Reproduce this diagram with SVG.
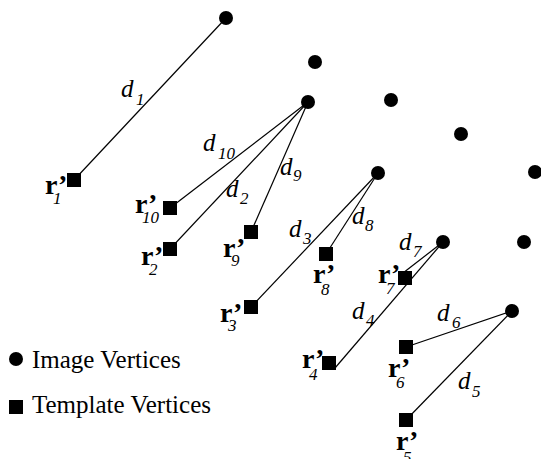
<svg xmlns="http://www.w3.org/2000/svg" width="541" height="459" viewBox="0 0 541 459">
  <style>
    .edge { stroke: #000; stroke-width: 1.2; fill: none; }
    .img { fill: #000; }
    .tpl { fill: #000; }
    .d { font-family: "Liberation Serif", "Times New Roman", "DejaVu Serif", serif; font-style: italic; font-size: 25px; fill: #000; }
    .ds { font-family: "Liberation Serif", "Times New Roman", "DejaVu Serif", serif; font-style: italic; font-size: 17px; fill: #000; }
    .r { font-family: "Liberation Serif", "Times New Roman", "DejaVu Serif", serif; font-weight: bold; font-size: 28px; fill: #000; }
    .rs { font-family: "Liberation Serif", "Times New Roman", "DejaVu Serif", serif; font-style: italic; font-size: 17px; fill: #000; }
    .legend { font-family: "Liberation Serif", "Times New Roman", "DejaVu Serif", serif; font-size: 25px; fill: #000; }
  </style>

  <!-- distance connectors -->
  <g id="connectors">
    <line class="edge" x1="226" y1="18" x2="74" y2="180"/>
    <line class="edge" x1="308" y1="102" x2="170" y2="208"/>
    <line class="edge" x1="308" y1="102" x2="170" y2="249"/>
    <line class="edge" x1="308" y1="102" x2="251" y2="232"/>
    <line class="edge" x1="378" y1="173" x2="251" y2="307"/>
    <line class="edge" x1="378" y1="173" x2="326" y2="254"/>
    <line class="edge" x1="443" y1="242" x2="403" y2="273"/>
    <line class="edge" x1="443" y1="242" x2="335" y2="368"/>
    <line class="edge" x1="512" y1="311" x2="406" y2="347"/>
    <line class="edge" x1="512" y1="311" x2="406" y2="420"/>
  </g>

  <!-- distance labels -->
  <g id="distance-labels">
    <text class="d" x="121" y="97">d</text><text class="ds" x="136" y="105">1</text>
    <text class="d" x="203" y="151">d</text><text class="ds" x="218" y="159">10</text>
    <text class="d" x="226" y="197">d</text><text class="ds" x="240" y="204">2</text>
    <text class="d" x="280" y="175">d</text><text class="ds" x="293" y="181">9</text>
    <text class="d" x="289" y="237">d</text><text class="ds" x="303" y="244">3</text>
    <text class="d" x="352" y="224">d</text><text class="ds" x="365" y="231">8</text>
    <text class="d" x="399" y="250">d</text><text class="ds" x="413" y="257">7</text>
    <text class="d" x="352" y="319">d</text><text class="ds" x="366" y="326">4</text>
    <text class="d" x="437" y="321">d</text><text class="ds" x="452" y="328">6</text>
    <text class="d" x="458" y="389">d</text><text class="ds" x="472" y="397">5</text>
  </g>

  <!-- image vertices -->
  <g id="image-vertices">
    <circle id="iv1" class="img" cx="226" cy="18" r="7"/>
    <circle id="iv2" class="img" cx="315" cy="62" r="7"/>
    <circle id="iv3" class="img" cx="308" cy="102" r="7"/>
    <circle id="iv4" class="img" cx="391" cy="100" r="7"/>
    <circle id="iv5" class="img" cx="461" cy="134" r="7"/>
    <circle id="iv6" class="img" cx="535" cy="172" r="7"/>
    <circle id="iv7" class="img" cx="378" cy="173" r="7"/>
    <circle id="iv8" class="img" cx="443" cy="242" r="7"/>
    <circle id="iv9" class="img" cx="524" cy="242" r="7"/>
    <circle id="iv10" class="img" cx="512" cy="311" r="7"/>
  </g>

  <!-- template vertices with labels -->
  <g id="tv1">
    <rect class="tpl" x="67" y="173" width="14" height="14"/>
    <text class="r" x="45" y="194">r’</text><text class="rs" x="53" y="204">1</text>
  </g>
  <g id="tv10">
    <rect class="tpl" x="163" y="201" width="14" height="14"/>
    <text class="r" x="135" y="213">r’</text><text class="rs" x="142" y="223">10</text>
  </g>
  <g id="tv2">
    <rect class="tpl" x="163" y="242" width="14" height="14"/>
    <text class="r" x="141" y="265">r’</text><text class="rs" x="149" y="275">2</text>
  </g>
  <g id="tv9">
    <rect class="tpl" x="244" y="225" width="14" height="14"/>
    <text class="r" x="223" y="257">r’</text><text class="rs" x="231" y="266">9</text>
  </g>
  <g id="tv3">
    <rect class="tpl" x="244" y="300" width="14" height="14"/>
    <text class="r" x="220" y="322">r’</text><text class="rs" x="228" y="331">3</text>
  </g>
  <g id="tv8">
    <rect class="tpl" x="319" y="247" width="14" height="14"/>
    <text class="r" x="313" y="283">r’</text><text class="rs" x="321" y="295">8</text>
  </g>
  <g id="tv7">
    <rect class="tpl" x="398" y="271" width="14" height="14"/>
    <text class="r" x="378" y="283">r’</text><text class="rs" x="386" y="294">7</text>
  </g>
  <g id="tv4">
    <rect class="tpl" x="322" y="356" width="14" height="14"/>
    <text class="r" x="302" y="368">r’</text><text class="rs" x="309" y="380">4</text>
  </g>
  <g id="tv6">
    <rect class="tpl" x="399" y="340" width="14" height="14"/>
    <text class="r" x="388" y="377">r’</text><text class="rs" x="396" y="388">6</text>
  </g>
  <g id="tv5">
    <rect class="tpl" x="399" y="413" width="14" height="14"/>
    <text class="r" x="396" y="450">r’</text><text class="rs" x="403" y="463">5</text>
  </g>

  <!-- legend -->
  <g id="legend">
    <circle class="img" cx="16" cy="359" r="7"/>
    <text class="legend" x="32" y="368">Image Vertices</text>
    <rect class="tpl" x="9" y="400" width="14" height="14"/>
    <text class="legend" x="32" y="413">Template Vertices</text>
  </g>
</svg>
